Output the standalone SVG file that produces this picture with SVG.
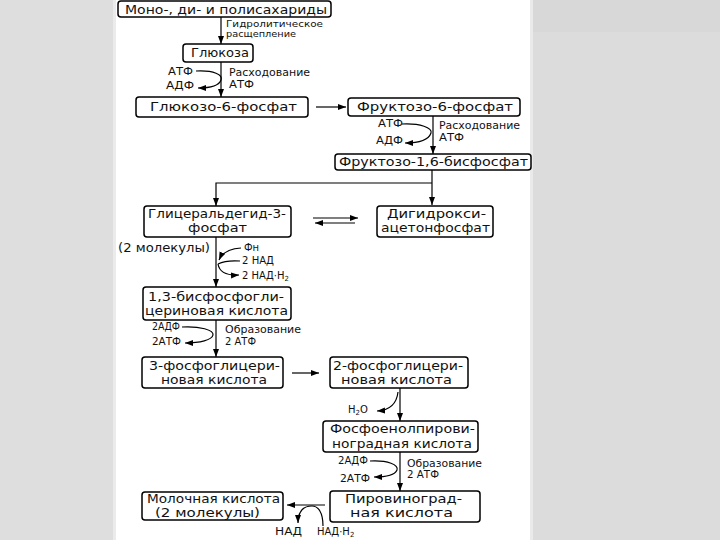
<svg xmlns="http://www.w3.org/2000/svg" width="720" height="540" viewBox="0 0 720 540">
<defs>
<marker id="ah" markerUnits="userSpaceOnUse" markerWidth="9" markerHeight="7" refX="8" refY="3" orient="auto">
<path d="M0,0 L8,3 L0,6 z" fill="#000"/>
</marker>
<style>
.box{fill:#fff;stroke:#000;stroke-width:1.5}
.t{font-family:"DejaVu Sans","Liberation Sans",sans-serif;font-size:12px;fill:#111}
.s{font-family:"DejaVu Sans","Liberation Sans",sans-serif;font-size:10px;fill:#111}
.c{fill:none;stroke:#000;stroke-width:1.2}
.a{marker-end:url(#ah)}
</style>
</defs>
<rect x="0" y="0" width="720" height="540" fill="#fff"/>
<rect x="0" y="0" width="113" height="540" fill="#dedede"/>
<rect x="113" y="0" width="3" height="540" fill="#ebebeb"/>
<rect x="530" y="0" width="3" height="540" fill="#eaeaea"/>
<rect x="533" y="0" width="187" height="540" fill="#dcdcdc"/>
<rect x="533" y="0" width="187" height="32" fill="#d8d8d8"/>

<g id="connectors">
<line class="c a" x1="221" y1="17" x2="221" y2="44"/>
<line class="c a" x1="221" y1="62" x2="221" y2="97"/>
<path class="c a" d="M196,71 C214,70 223,75 221,80 C219,86 210,88 198,88"/>
<line class="c a" x1="316" y1="107" x2="346" y2="107"/>
<line class="c a" x1="433" y1="116" x2="433" y2="154"/>
<path class="c a" d="M402,124 C420,123 433,128 431,133 C429,139 420,143 405,143"/>
<line class="c a" x1="432" y1="170" x2="432" y2="205"/>
<polyline class="c a" points="432,183 216,183 216,206"/>
<line class="c a" x1="313" y1="218" x2="358" y2="218"/>
<line class="c a" x1="355" y1="223" x2="315" y2="223"/>
<line class="c a" x1="216" y1="237" x2="216" y2="287"/>
<path class="c a" d="M241,248 Q224,249 219,260"/>
<path class="c" d="M240,261 Q226,260 218,264"/>
<path class="c a" d="M218,264 Q220,276 239,275"/>
<line class="c a" x1="216" y1="320" x2="216" y2="357"/>
<path class="c a" d="M182,327 C200,326 214,330 213,335 C212,340 200,343 185,343"/>
<line class="c a" x1="292" y1="373" x2="319" y2="373"/>
<line class="c a" x1="400" y1="388" x2="400" y2="421"/>
<path class="c a" d="M398,392 Q396,410 377,411"/>
<line class="c a" x1="400" y1="452" x2="400" y2="491"/>
<path class="c a" d="M370,461 C388,460 399,465 397,470 C395,475 385,477 374,477"/>
<line class="c a" x1="325" y1="505" x2="287" y2="505"/>
<path class="c" d="M323,526 C323,512 318,506 312,506"/>
<path class="c a" d="M312,506 C303,506 298,512 298,523"/>
</g>

<g id="n1"><rect class="box" x="118" y="1" width="213" height="16" rx="3"/>
<text class="t" x="125" y="14" textLength="202" lengthAdjust="spacingAndGlyphs" style="font-size:13px">Моно-, ди- и полисахариды</text></g>
<g id="n2"><rect class="box" x="183" y="44" width="70" height="18" rx="3"/>
<text class="t" x="191" y="57" textLength="58" lengthAdjust="spacingAndGlyphs">Глюкоза</text></g>
<g id="n3"><rect class="box" x="136" y="97" width="172" height="20" rx="3"/>
<text class="t" x="150" y="111" textLength="147" lengthAdjust="spacingAndGlyphs">Глюкозо-6-фосфат</text></g>
<g id="n4"><rect class="box" x="348" y="98" width="172" height="18" rx="3"/>
<text class="t" x="357" y="111" textLength="156" lengthAdjust="spacingAndGlyphs">Фруктозо-6-фосфат</text></g>
<g id="n5"><rect class="box" x="335" y="154" width="196" height="16" rx="3"/>
<text class="t" x="339" y="166" textLength="189" lengthAdjust="spacingAndGlyphs">Фруктозо-1,6-бисфосфат</text></g>
<g id="n6"><rect class="box" x="144" y="206" width="147" height="31" rx="3"/>
<text class="t" x="148" y="218" textLength="138" lengthAdjust="spacingAndGlyphs">Глицеральдегид-3-</text>
<text class="t" x="188" y="232" textLength="59" lengthAdjust="spacingAndGlyphs">фосфат</text></g>
<g id="n7"><rect class="box" x="377" y="206" width="116" height="31" rx="3"/>
<text class="t" x="387" y="218" textLength="99" lengthAdjust="spacingAndGlyphs">Дигидрокси-</text>
<text class="t" x="381" y="232" textLength="109" lengthAdjust="spacingAndGlyphs">ацетонфосфат</text></g>
<g id="n8"><rect class="box" x="143" y="287" width="148" height="33" rx="3"/>
<text class="t" x="148" y="301" textLength="136" lengthAdjust="spacingAndGlyphs">1,3-бисфосфогли-</text>
<text class="t" x="145" y="315" textLength="143" lengthAdjust="spacingAndGlyphs">цериновая кислота</text></g>
<g id="n9"><rect class="box" x="142" y="357" width="141" height="31" rx="3"/>
<text class="t" x="149" y="370" textLength="131" lengthAdjust="spacingAndGlyphs">3-фосфоглицери-</text>
<text class="t" x="161" y="384" textLength="106" lengthAdjust="spacingAndGlyphs">новая кислота</text></g>
<g id="n10"><rect class="box" x="330" y="357" width="138" height="31" rx="3"/>
<text class="t" x="333" y="370" textLength="130" lengthAdjust="spacingAndGlyphs">2-фосфоглицери-</text>
<text class="t" x="341" y="384" textLength="111" lengthAdjust="spacingAndGlyphs">новая кислота</text></g>
<g id="n11"><rect class="box" x="323" y="421" width="155" height="31" rx="3"/>
<text class="t" x="330" y="433" textLength="145" lengthAdjust="spacingAndGlyphs">Фосфоенолпирови-</text>
<text class="t" x="332" y="448" textLength="140" lengthAdjust="spacingAndGlyphs">ноградная кислота</text></g>
<g id="n12"><rect class="box" x="330" y="491" width="150" height="31" rx="3"/>
<text class="t" x="345" y="503" textLength="117" lengthAdjust="spacingAndGlyphs">Пировиноград-</text>
<text class="t" x="350" y="517" textLength="103" lengthAdjust="spacingAndGlyphs">ная кислота</text></g>
<g id="n13"><rect class="box" x="142" y="492" width="141" height="28" rx="3"/>
<text class="t" x="147" y="503" textLength="133" lengthAdjust="spacingAndGlyphs">Молочная кислота</text>
<text class="t" x="155" y="517" textLength="105" lengthAdjust="spacingAndGlyphs">(2 молекулы)</text></g>

<g id="labels">
<text class="s" x="226" y="27" textLength="97" lengthAdjust="spacingAndGlyphs" style="font-size:9px">Гидролитическое</text>
<text class="s" x="226" y="37" textLength="70" lengthAdjust="spacingAndGlyphs" style="font-size:9px">расщепление</text>
<text class="s" x="168" y="75" textLength="25" lengthAdjust="spacingAndGlyphs">АТФ</text>
<text class="s" x="166" y="89" textLength="28" lengthAdjust="spacingAndGlyphs">АДФ</text>
<text class="s" x="229" y="76" textLength="81" lengthAdjust="spacingAndGlyphs">Расходование</text>
<text class="s" x="229" y="88" textLength="25" lengthAdjust="spacingAndGlyphs">АТФ</text>
<text class="s" x="378" y="127" textLength="25" lengthAdjust="spacingAndGlyphs">АТФ</text>
<text class="s" x="376" y="144" textLength="27" lengthAdjust="spacingAndGlyphs">АДФ</text>
<text class="s" x="439" y="129" textLength="81" lengthAdjust="spacingAndGlyphs">Расходование</text>
<text class="s" x="439" y="141" textLength="25" lengthAdjust="spacingAndGlyphs">АТФ</text>
<text class="t" x="118" y="252" textLength="92" lengthAdjust="spacingAndGlyphs">(2 молекулы)</text>
<text class="s" x="244" y="251">Фн</text>
<text class="s" x="242" y="264" textLength="32" lengthAdjust="spacingAndGlyphs">2 НАД</text>
<text class="s" x="242" y="279">2 НАД·Н<tspan font-size="7" dy="2">2</tspan></text>
<text class="s" x="152" y="330" textLength="28" lengthAdjust="spacingAndGlyphs">2АДФ</text>
<text class="s" x="152" y="345" textLength="29" lengthAdjust="spacingAndGlyphs">2АТФ</text>
<text class="s" x="225" y="333" textLength="76" lengthAdjust="spacingAndGlyphs">Образование</text>
<text class="s" x="225" y="345" textLength="31" lengthAdjust="spacingAndGlyphs">2 АТФ</text>
<text class="s" x="348" y="413">H<tspan font-size="7" dy="2">2</tspan><tspan dy="-2">O</tspan></text>
<text class="s" x="338" y="464" textLength="30" lengthAdjust="spacingAndGlyphs">2АДФ</text>
<text class="s" x="340" y="482" textLength="30" lengthAdjust="spacingAndGlyphs">2АТФ</text>
<text class="s" x="407" y="467" textLength="75" lengthAdjust="spacingAndGlyphs">Образование</text>
<text class="s" x="407" y="478" textLength="32" lengthAdjust="spacingAndGlyphs">2 АТФ</text>
<text class="s" x="275" y="535" textLength="27" lengthAdjust="spacingAndGlyphs">НАД</text>
<text class="s" x="317" y="535">НАД·Н<tspan font-size="7" dy="2">2</tspan></text>
</g>
</svg>
